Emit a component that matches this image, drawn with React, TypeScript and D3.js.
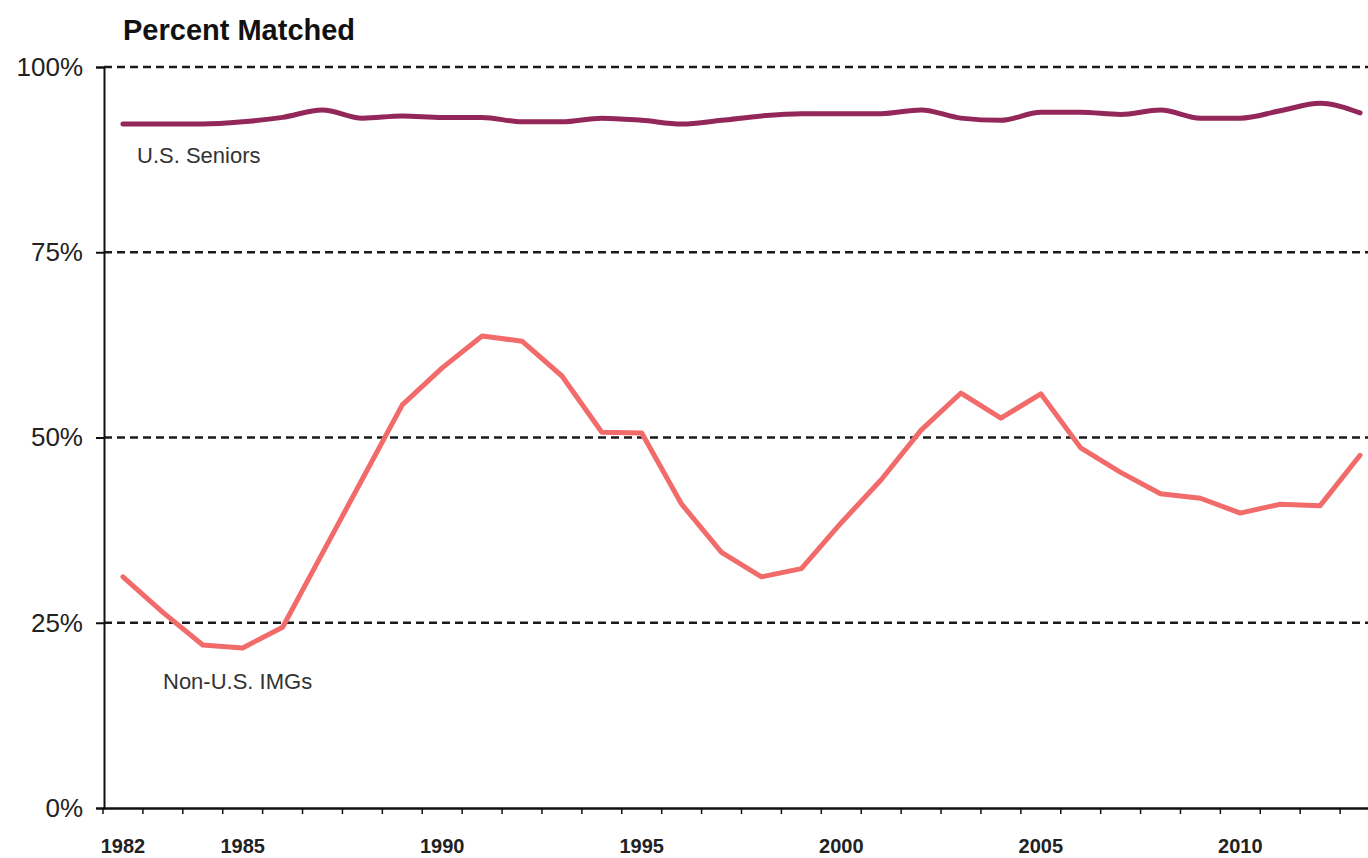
import React, { useEffect, useRef } from 'react';
import * as d3 from 'd3';

const years = d3.range(1982, 2014).map(String);
const labeledYears = ['1982', '1985', '1990', '1995', '2000', '2005', '2010'];

// Percent matched, U.S. seniors
const seniors = [
  92.3, 92.3, 92.3, 92.6, 93.2, 94.2, 93.1, 93.4, 93.2, 93.2, 92.6, 92.6, 93.1, 92.8, 92.3, 92.8,
  93.4, 93.7, 93.7, 93.7, 94.2, 93.1, 92.8, 93.9, 93.9, 93.6, 94.2, 93.1, 93.1, 94.1, 95.1, 93.8
];

// Percent matched, non-U.S. IMGs
const imgs = [
  31.2, 26.4, 22.0, 21.6, 24.4, 34.4, 44.4, 54.4, 59.4, 63.7, 63.0, 58.3, 50.7, 50.6, 41.0, 34.5,
  31.2, 32.3, 38.5, 44.3, 51.0, 56.0, 52.6, 55.9, 48.6, 45.3, 42.4, 41.8, 39.8, 41.0, 40.8, 47.6
];

const yTicks = [0, 25, 50, 75, 100];
const gridTicks = [25, 50, 75, 100];

const W = 1368;
const H = 858;

const App: React.FC = () => {
  const svgRef = useRef<SVGSVGElement>(null);

  useEffect(() => {
    if (!svgRef.current) return;
    const svg = d3.select(svgRef.current);
    svg.selectAll('*').remove();

    const x = d3.scaleBand<string>().domain(years).range([103, 1380]);
    const y = d3.scaleLinear().domain([0, 100]).range([808, 67]);
    const cx = (d: string) => (x(d) as number) + x.bandwidth() / 2;

    const font = '"Liberation Sans", Arial, sans-serif';

    // Title
    svg.append('text')
      .attr('x', 123)
      .attr('y', 40)
      .attr('font-family', font)
      .attr('font-weight', 'bold')
      .attr('font-size', 29)
      .attr('fill', '#111')
      .text('Percent Matched');

    // Dashed gridlines
    svg.append('g')
      .selectAll('line')
      .data(gridTicks)
      .enter()
      .append('line')
      .attr('x1', 104)
      .attr('x2', W)
      .attr('y1', d => y(d))
      .attr('y2', d => y(d))
      .attr('stroke', '#1a1a1a')
      .attr('stroke-width', 2.5)
      .attr('stroke-dasharray', '8,5');

    // Y axis
    const yAxis = d3.axisLeft(y)
      .tickValues(yTicks)
      .tickFormat(d => `${d}%`)
      .tickSize(8)
      .tickPadding(13);

    const gy = svg.append('g')
      .attr('transform', 'translate(104,0)')
      .call(yAxis);
    gy.select('.domain').attr('stroke', '#111').attr('stroke-width', 2);
    gy.selectAll('.tick line').attr('stroke', '#111').attr('stroke-width', 2);
    gy.selectAll('.tick text')
      .attr('font-family', font)
      .attr('font-size', 26)
      .attr('fill', '#222');

    // X axis
    const xAxis = d3.axisBottom(x)
      .tickValues([])
      .tickSizeOuter(0);
    const gx = svg.append('g')
      .attr('transform', 'translate(0,808)')
      .call(xAxis);
    gx.select('.domain').attr('stroke', '#111').attr('stroke-width', 2.5);

    // Tick marks at band boundaries
    gx.append('g')
      .selectAll('line')
      .data(years)
      .enter()
      .append('line')
      .attr('x1', d => x(d) as number)
      .attr('x2', d => x(d) as number)
      .attr('y1', 0)
      .attr('y2', 6)
      .attr('stroke', '#111')
      .attr('stroke-width', 1.5);

    gx.append('g')
      .selectAll('text')
      .data(labeledYears)
      .enter()
      .append('text')
      .attr('x', d => cx(d))
      .attr('y', 45)
      .attr('text-anchor', 'middle')
      .attr('font-family', font)
      .attr('font-weight', 'bold')
      .attr('font-size', 20)
      .attr('fill', '#222')
      .text(d => d);

    // Lines
    const seniorsLine = d3.line<number>()
      .x((_, i) => cx(years[i]))
      .y(d => y(d))
      .curve(d3.curveMonotoneX);

    const imgLine = d3.line<number>()
      .x((_, i) => cx(years[i]))
      .y(d => y(d))
      .curve(d3.curveLinear);

    svg.append('path')
      .attr('d', imgLine(imgs) as string)
      .attr('fill', 'none')
      .attr('stroke', '#f26b6b')
      .attr('stroke-width', 5)
      .attr('stroke-linejoin', 'round')
      .attr('stroke-linecap', 'round');

    svg.append('path')
      .attr('d', seniorsLine(seniors) as string)
      .attr('fill', 'none')
      .attr('stroke', '#93275a')
      .attr('stroke-width', 5)
      .attr('stroke-linejoin', 'round')
      .attr('stroke-linecap', 'round');

    // Series labels
    svg.append('text')
      .attr('x', 137)
      .attr('y', 163)
      .attr('font-family', font)
      .attr('font-size', 22)
      .attr('fill', '#333')
      .text('U.S. Seniors');

    svg.append('text')
      .attr('x', 163)
      .attr('y', 689)
      .attr('font-family', font)
      .attr('font-size', 22)
      .attr('fill', '#333')
      .text('Non-U.S. IMGs');
  }, []);

  return (
    <svg
      ref={svgRef}
      width={W}
      height={H}
      style={{ position: 'absolute', left: 0, top: 0, background: '#fff' }}
    />
  );
};

export default App;
